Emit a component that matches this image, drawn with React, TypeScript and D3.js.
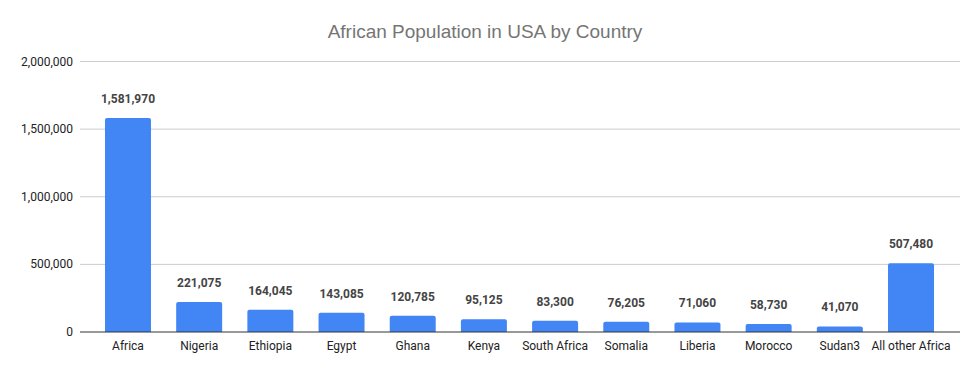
import { useRef, useEffect } from "react";
import * as d3 from "d3";

const countries = ["Africa", "Nigeria", "Ethiopia", "Egypt", "Ghana", "Kenya", "South Africa", "Somalia", "Liberia", "Morocco", "Sudan3", "All other Africa"];
const population = [1581970, 221075, 164045, 143085, 120785, 95125, 83300, 76205, 71060, 58730, 41070, 507480];
const yTicks = [0, 500000, 1000000, 1500000, 2000000];

export default function App() {
  const ref = useRef<SVGSVGElement>(null);

  useEffect(() => {
    if (!ref.current) return;
    const svg = d3.select(ref.current); svg.selectAll("*").remove();
    const W = 978, H = 371;
    const left = 80, right = 960, top = 61.5, bottom = 332;
    const font = "Roboto, Arial, sans-serif";
    svg.attr("width", W).attr("height", H);
    svg.append("rect").attr("width", W).attr("height", H).attr("fill", "#fff");

    const x = d3.scaleBand<string>().domain(countries).range([92.4, 946.6]).paddingInner(0.354).paddingOuter(0.177);
    const y = d3.scaleLinear().domain([0, 2000000]).range([bottom, top]);

    svg.append("text").attr("x", 485).attr("y", 38).attr("text-anchor", "middle")
      .attr("fill", "#757575").attr("font-size", "19px").attr("font-family", "'Liberation Sans', Arial, sans-serif")
      .text("African Population in USA by Country");

    svg.selectAll(".grid").data(yTicks.filter(t => t > 0)).join("line")
      .attr("x1", left).attr("x2", right).attr("y1", d => y(d)).attr("y2", d => y(d))
      .attr("stroke", "#cccccc").attr("stroke-width", 1);

    svg.selectAll(".ytick").data(yTicks).join("text")
      .attr("x", 73).attr("y", d => y(d) + 4).attr("text-anchor", "end")
      .attr("fill", "#222").attr("font-size", "12px").attr("font-family", font)
      .text(d => d3.format(",")(d));

    const bw = x.bandwidth();
    svg.selectAll(".bar").data(countries).join("path")
      .attr("fill", "#4285f4")
      .attr("d", (c, i) => {
        const x0 = x(c)!, y0 = y(population[i]), r = 2;
        return `M${x0},${bottom}V${y0 + r}Q${x0},${y0} ${x0 + r},${y0}H${x0 + bw - r}Q${x0 + bw},${y0} ${x0 + bw},${y0 + r}V${bottom}Z`;
      });

    svg.append("line").attr("x1", left).attr("x2", right).attr("y1", bottom).attr("y2", bottom)
      .attr("stroke", "#333").attr("stroke-width", 1);

    svg.selectAll(".val").data(countries).join("text")
      .attr("x", c => x(c)! + bw / 2).attr("y", (_c, i) => y(population[i]) - 15)
      .attr("text-anchor", "middle").attr("fill", "#444").attr("font-size", "12px").attr("font-weight", "bold")
      .attr("font-family", font).text((_c, i) => d3.format(",")(population[i]));

    svg.selectAll(".cat").data(countries).join("text")
      .attr("x", c => x(c)! + bw / 2).attr("y", 350).attr("text-anchor", "middle")
      .attr("fill", "#222").attr("font-size", "12px").attr("font-family", font).text(c => c);
  }, []);

  return <svg ref={ref} style={{ position: "absolute", left: 0, top: 0 }} />;
}
